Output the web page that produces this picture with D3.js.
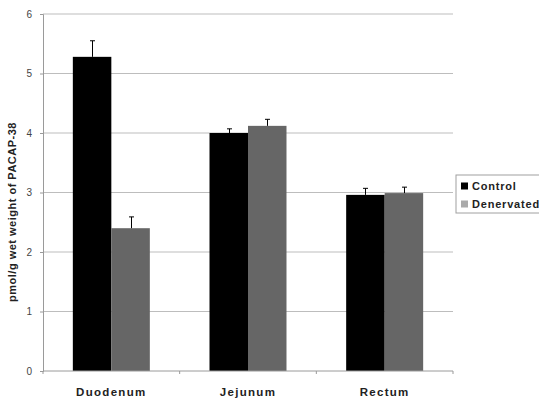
<!DOCTYPE html>
<html>
<head>
<meta charset="utf-8">
<script src="https://d3js.org/d3.v7.min.js"></script>
<style>
  body { margin: 0; background: #fff; }
  svg { display: block; font-family: "Liberation Sans", Arial, sans-serif; }
</style>
</head>
<body>
<div id="chart"></div>
<script>
// Data
const regions = ["Duodenum", "Jejunum", "Rectum"];
const groups = ["Control", "Denervated"];
const controlMeans = [5.28, 4.0, 2.96];
const controlErr = [0.27, 0.07, 0.11];
const denervMeans = [2.40, 4.12, 2.99];
const denervErr = [0.19, 0.11, 0.10];
const yTicks = [0, 1, 2, 3, 4, 5, 6];

const colors = { Control: "#000000", Denervated: "#666666" };

const rows = regions.flatMap((r, i) => [
  { region: r, group: "Control", value: controlMeans[i], err: controlErr[i] },
  { region: r, group: "Denervated", value: denervMeans[i], err: denervErr[i] }
]);

// Chart dimensions
const W = 539, H = 401;
const plot = { left: 43, right: 453, top: 14, bottom: 371 };

const svg = d3.select("#chart")
  .append("svg")
  .attr("width", W)
  .attr("height", H);

const x = d3.scaleBand()
  .domain(regions)
  .range([plot.left, plot.right])
  .paddingInner(0)
  .paddingOuter(0);

const xInner = d3.scaleBand()
  .domain(groups)
  .range([0, x.bandwidth()])
  .paddingInner(0)
  .paddingOuter(0.775);

const y = d3.scaleLinear()
  .domain([0, 6])
  .range([plot.bottom, plot.top]);

// Gridlines
svg.append("g")
  .selectAll("line")
  .data(yTicks.filter(t => t > 0))
  .enter().append("line")
  .attr("x1", plot.left)
  .attr("x2", plot.right)
  .attr("y1", d => y(d))
  .attr("y2", d => y(d))
  .attr("stroke", "#bdbdbd")
  .attr("stroke-width", 1);

// Bars
svg.append("g")
  .selectAll("rect")
  .data(rows)
  .enter().append("rect")
  .attr("x", d => x(d.region) + xInner(d.group))
  .attr("y", d => y(d.value))
  .attr("width", xInner.bandwidth())
  .attr("height", d => y(0) - y(d.value))
  .attr("fill", d => colors[d.group]);

// Error bars (upper only)
const eb = svg.append("g").attr("stroke", "#000").attr("stroke-width", 1);
rows.forEach(d => {
  const cx = Math.round(x(d.region) + xInner(d.group) + xInner.bandwidth() / 2) + 0.5;
  eb.append("line")
    .attr("x1", cx).attr("x2", cx)
    .attr("y1", y(d.value)).attr("y2", y(d.value + d.err));
  eb.append("line")
    .attr("x1", cx - 2.5).attr("x2", cx + 2.5)
    .attr("y1", y(d.value + d.err)).attr("y2", y(d.value + d.err));
});

// Y axis
const yAxis = svg.append("g")
  .attr("transform", `translate(${plot.left},0)`)
  .call(d3.axisLeft(y).tickValues(yTicks).tickSize(3).tickPadding(8).tickFormat(d3.format("d")));
yAxis.select(".domain").attr("stroke", "#9a9a9a");
yAxis.selectAll(".tick line").attr("stroke", "#9a9a9a");
yAxis.selectAll(".tick text")
  .attr("font-size", 10)
  .attr("fill", "#444")
  .attr("font-family", "'Liberation Sans Narrow', 'Liberation Sans', Arial, sans-serif");

// X axis
const xAxis = svg.append("g")
  .attr("transform", `translate(0,${plot.bottom})`);
xAxis.append("line")
  .attr("x1", plot.left).attr("x2", plot.right)
  .attr("y1", 0).attr("y2", 0)
  .attr("stroke", "#9a9a9a");
xAxis.selectAll(".boundary")
  .data(regions.map(r => x(r)).concat([plot.right]))
  .enter().append("line")
  .attr("class", "boundary")
  .attr("x1", d => d).attr("x2", d => d)
  .attr("y1", 0).attr("y2", 3)
  .attr("stroke", "#9a9a9a");
xAxis.selectAll(".cat")
  .data(regions)
  .enter().append("text")
  .attr("class", "cat")
  .attr("x", d => x(d) + x.bandwidth() / 2)
  .attr("y", 25)
  .attr("text-anchor", "middle")
  .attr("font-size", 11.5)
  .attr("font-weight", "bold")
  .attr("letter-spacing", 1.3)
  .attr("fill", "#222")
  .text(d => d);

// Y axis title
svg.append("text")
  .attr("transform", `translate(16,212) rotate(-90)`)
  .attr("text-anchor", "middle")
  .attr("font-size", 11)
  .attr("font-weight", "bold")
  .attr("letter-spacing", 0.5)
  .attr("fill", "#222")
  .text("pmol/g wet weight of PACAP-38");

// Legend
const legend = svg.append("g").attr("transform", "translate(456,175)");
legend.append("rect")
  .attr("x", 0).attr("y", 0)
  .attr("width", 95).attr("height", 38)
  .attr("fill", "#fff")
  .attr("stroke", "#a0a0a0");
groups.forEach((g, i) => {
  const ly = 11 + i * 18;
  legend.append("rect")
    .attr("x", 5).attr("y", ly - 3.5)
    .attr("width", 7).attr("height", 7)
    .attr("fill", i === 0 ? "#000" : "#aaaaaa");
  legend.append("text")
    .attr("x", 16).attr("y", ly + 4)
    .attr("font-size", 11)
    .attr("font-weight", "bold")
    .attr("letter-spacing", 0.8)
    .attr("fill", "#222")
    .text(g);
});
</script>
</body>
</html>
